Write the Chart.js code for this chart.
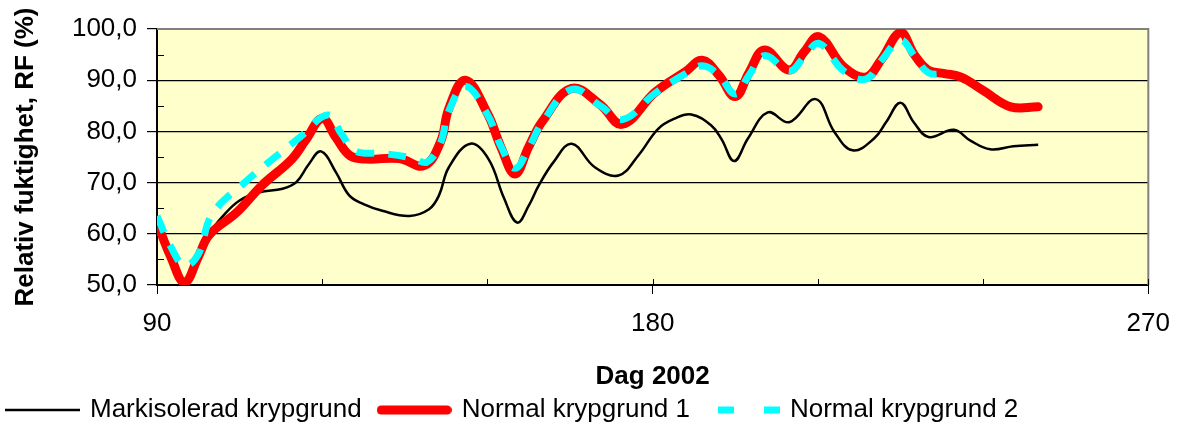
<!DOCTYPE html>
<html>
<head>
<meta charset="utf-8">
<script src="https://cdn.jsdelivr.net/npm/chart.js@4/dist/chart.umd.min.js"></script>
<style>
  html, body { margin: 0; padding: 0; background: #fff; }
  #wrap { width: 1184px; height: 426px; }
</style>
</head>
<body>
<div id="wrap"><canvas id="rf"></canvas></div>
<script>
// days and RF values
const daysMark = [90, 92.5, 95, 97.5, 99.5, 102, 105, 108.6, 112.8, 115.3, 117.5, 119.8, 122.5, 124.9, 127.5, 130.9, 135.8, 139.4, 141.2, 143, 146.9, 150.2, 153, 155.4, 157.5, 159.3, 162, 165.3, 169.5, 173.8, 177.4, 181, 184, 187, 190.6, 192.5, 194.8, 197.3, 200.9, 204.8, 209.6, 213, 216.3, 220.2, 222.5, 225, 227.4, 230.1, 234.7, 237.7, 241.3, 245.5, 250];
const rfMark = [62, 55.5, 50.8, 55.5, 60, 63.5, 66.5, 68.1, 68.8, 70.1, 73.5, 76.1, 72, 67.5, 65.8, 64.5, 63.5, 64.8, 67.5, 73, 77.6, 74.6, 67, 62.2, 65.5, 69.4, 74, 77.6, 73, 71.4, 75.3, 80.5, 82.5, 83.3, 81.2, 78.5, 74.2, 78.6, 83.7, 81.8, 86.3, 79.9, 76.3, 78.6, 82, 85.6, 81.8, 78.9, 80.3, 78.2, 76.5, 77.1, 77.4];

const daysNormal1 = [90, 92.5, 95, 97.5, 99.5, 104.5, 109, 114.5, 117, 120, 122.5, 125, 128, 134, 138.5, 141.5, 143, 146, 150, 152.5, 155, 157.5, 160, 165.3, 170.5, 174.5, 180.5, 186, 189, 192, 195, 197.5, 200.3, 204.8, 207.5, 210.2, 214.7, 218.7, 221.5, 225, 227.5, 230, 233, 236, 240, 245, 250];
const rfNormal1 = [62.2, 55.5, 50.5, 55.5, 59.8, 64.2, 69.4, 74.6, 78.3, 82.5, 78.8, 75.3, 74.6, 74.7, 73.3, 78, 84.5, 90, 83.5, 76.8, 71.7, 77, 82, 88.4, 85.2, 81.4, 87.7, 91.7, 93.9, 91, 86.8, 91.5, 95.9, 92, 95.5, 98.5, 92.6, 90.6, 94, 99.3, 95, 92, 91.3, 90.6, 88, 84.8, 84.8];

const daysNormal2 = [90, 92.5, 95, 97.5, 100, 106, 111, 116, 121, 123.5, 126, 131, 136.4, 139, 141.5, 143, 146, 150, 152.5, 155, 157.5, 160, 165.3, 170.5, 174.5, 180.5, 186, 189, 192, 195, 197.5, 200.3, 204.8, 207.5, 210.2, 214.7, 218.7, 221.5, 225, 227.5, 230, 233];
const rfNormal2 = [63.5, 57.5, 53.8, 56, 63.8, 70.1, 74.6, 78.9, 83.2, 79.5, 76.2, 75.7, 74.8, 74, 77.8, 84, 88.8, 83.3, 77, 72.8, 76.8, 81.8, 88.2, 85, 82.3, 87.5, 91.3, 92.8, 91, 87.3, 91, 94.8, 91.8, 94.5, 97.2, 91.8, 90.2, 93.8, 97.8, 94.8, 91.5, 91.2];

const seriesNames = ["Markisolerad krypgrund", "Normal krypgrund 1", "Normal krypgrund 2"];
const xLabelDays = [90, 180, 270];

const pts = (xs, ys) => xs.map((x, i) => ({ x: x, y: ys[i] }));
const FONT = "'Liberation Sans', Arial, sans-serif";
Chart.defaults.color = "#000";
Chart.defaults.font.family = FONT;

// little line samples for the legend (Excel style)
function sample(color, width, segs, cap) {
  const c = document.createElement("canvas");
  c.width = 75;
  c.height = 14;
  const g = c.getContext("2d");
  g.strokeStyle = color;
  g.lineWidth = width;
  g.lineCap = cap || "butt";
  g.beginPath();
  segs.forEach((s) => {
    g.moveTo(s[0], 7);
    g.lineTo(s[1], 7);
  });
  g.stroke();
  return c;
}
const legendSamples = [
  sample("#000", 2.5, [[0, 75]]),
  sample("#FF0000", 9, [[4.5, 70.5]], "round"),
  sample("#00FFFF", 7, [[13, 29], [59, 75]]),
];

// yellow plot area, grey frame and the inside tick marks
const plotFrame = {
  id: "plotFrame",
  beforeDraw(chart) {
    const { ctx, chartArea: a } = chart;
    ctx.save();
    ctx.fillStyle = "#FFFFCC";
    ctx.fillRect(a.left, a.top, a.right - a.left, a.bottom - a.top);
    ctx.restore();
  },
  beforeDatasetsDraw(chart) {
    const { ctx, chartArea: a, scales } = chart;
    ctx.save();
    ctx.strokeStyle = "#808080";
    ctx.lineWidth = 2;
    ctx.beginPath();
    ctx.moveTo(a.left, a.top);
    ctx.lineTo(a.right, a.top);
    ctx.lineTo(a.right, a.bottom);
    ctx.stroke();
    ctx.strokeStyle = "#000";
    ctx.lineWidth = 1;
    ctx.beginPath();
    scales.x.ticks.forEach((t) => {
      const px = Math.round(scales.x.getPixelForValue(t.value)) + 0.5;
      ctx.moveTo(px, a.bottom);
      ctx.lineTo(px, a.bottom - 6);
    });
    scales.y.ticks.forEach((t) => {
      if (t.value % 10 === 0) return;
      const py = Math.round(scales.y.getPixelForValue(t.value)) + 0.5;
      ctx.moveTo(a.left, py);
      ctx.lineTo(a.left + 7, py);
    });
    ctx.stroke();
    ctx.restore();
  },
};

new Chart(document.getElementById("rf"), {
  type: "line",
  data: {
    datasets: [
      {
        label: seriesNames[0],
        data: pts(daysMark, rfMark),
        borderColor: "#000",
        backgroundColor: "#000",
        borderWidth: 2.5,
        order: 3,
      },
      {
        label: seriesNames[1],
        data: pts(daysNormal1, rfNormal1),
        borderColor: "#FF0000",
        backgroundColor: "#FF0000",
        borderWidth: 9,
        borderCapStyle: "round",
        order: 2,
      },
      {
        label: seriesNames[2],
        data: pts(daysNormal2, rfNormal2),
        borderColor: "#00FFFF",
        backgroundColor: "#00FFFF",
        borderWidth: 7,
        borderDash: [18, 14],
        order: 1,
      },
    ],
  },
  options: {
    responsive: true,
    maintainAspectRatio: false,
    animation: false,
    layout: { padding: { top: 29, right: 32, left: -10, bottom: -7 } },
    elements: { point: { radius: 0 }, line: { tension: 0.4, fill: false } },
    plugins: {
      tooltip: { enabled: false },
      legend: {
        position: "bottom",
        align: "start",
        labels: {
          font: { size: 26, family: FONT },
          usePointStyle: true,
          pointStyleWidth: 69,
          padding: 18,
          color: "#000",
          generateLabels(chart) {
            const items = Chart.defaults.plugins.legend.labels.generateLabels(chart);
            items.forEach((it) => { it.pointStyle = legendSamples[it.datasetIndex]; });
            return items.sort((a, b) => a.datasetIndex - b.datasetIndex);
          },
        },
      },
    },
    scales: {
      x: {
        type: "linear",
        min: 90,
        max: 270,
        afterFit(s) { s.height = 94; },
        border: { color: "#000", width: 2 },
        grid: {
          drawOnChartArea: false,
          tickLength: 9,
          tickColor: (c) => (c.tick && xLabelDays.includes(c.tick.value) ? "#000" : "transparent"),
        },
        ticks: {
          stepSize: 30,
          autoSkip: false,
          maxRotation: 0,
          padding: 14,
          font: { size: 26 },
          callback: (v) => (xLabelDays.includes(v) ? String(v) : ""),
        },
        title: {
          display: true,
          text: "Dag 2002",
          font: { size: 26, weight: "bold" },
          padding: { top: 0, bottom: -13 },
        },
      },
      y: {
        min: 50,
        max: 100,
        afterFit(s) { s.width = 167; },
        border: { color: "#000", width: 2 },
        grid: {
          color: (c) => (c.tick && c.tick.value % 10 === 0 && c.tick.value > 50 && c.tick.value < 100 ? "#000" : "transparent"),
          lineWidth: 1.2,
          tickLength: 10,
          tickColor: (c) => (c.tick && c.tick.value % 10 === 0 ? "#000" : "transparent"),
        },
        ticks: {
          stepSize: 5,
          autoSkip: false,
          padding: 10,
          font: { size: 26 },
          callback: (v) => (v % 10 === 0 ? v.toFixed(1).replace(".", ",") : ""),
        },
        title: {
          display: true,
          text: "Relativ fuktighet, RF (%)",
          font: { size: 26, weight: "bold" },
          padding: { top: 20, bottom: 0 },
        },
      },
    },
  },
  plugins: [plotFrame],
});
</script>
</body>
</html>
